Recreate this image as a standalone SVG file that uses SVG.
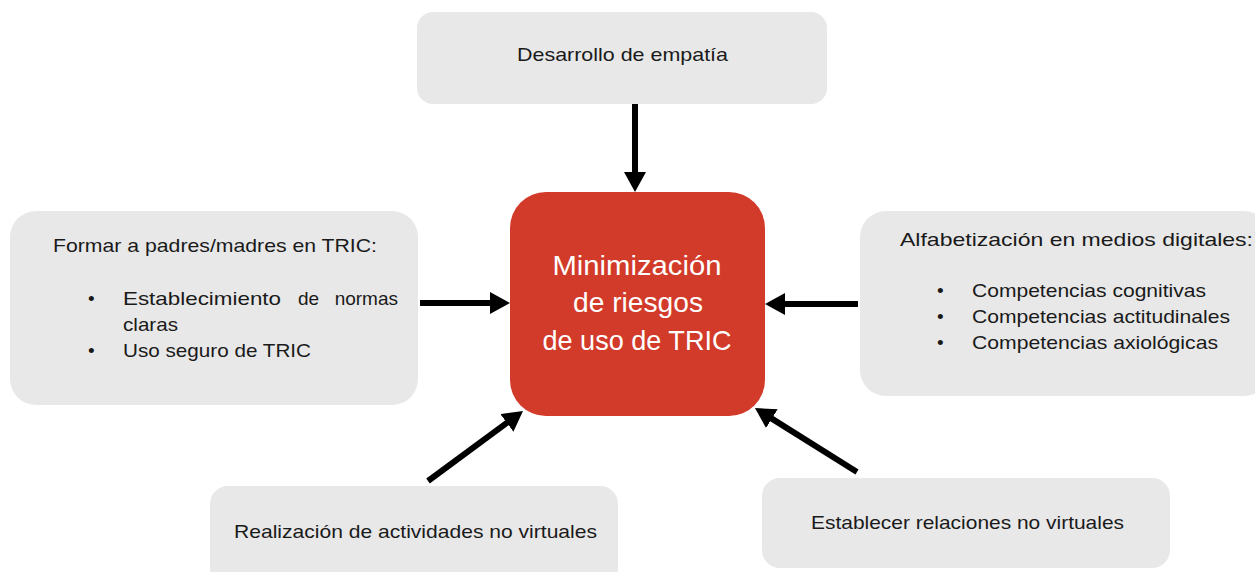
<svg xmlns="http://www.w3.org/2000/svg" width="1255" height="572" viewBox="0 0 1255 572">
<style>
.box{fill:#e8e8e8}
.t{font-family:"Liberation Sans",Arial,sans-serif;font-size:19px;fill:#1a1a1a}
.c{font-family:"Liberation Sans",Arial,sans-serif;font-size:28px;fill:#ffffff;text-anchor:middle}
.arr{stroke:#000;stroke-width:6;fill:none;marker-end:url(#ah)}
</style>
<defs>
<marker id="ah" markerUnits="userSpaceOnUse" markerWidth="20" markerHeight="22" refX="2" refY="11" orient="auto" viewBox="0 0 20 22">
<path d="M0,0 L20,11 L0,22 z" fill="#000"/>
</marker>
</defs>
<rect width="1255" height="572" fill="#ffffff"/>
<g id="top">
<rect class="box" x="417" y="12" width="410" height="92" rx="16"/>
<text class="t" x="517" y="61" textLength="211" lengthAdjust="spacingAndGlyphs">Desarrollo de empatía</text>
</g>
<g id="center">
<rect x="510" y="192" width="255" height="224" rx="36" fill="#d23a29"/>
<text class="c" x="637" y="275" textLength="169" lengthAdjust="spacingAndGlyphs">Minimización</text>
<text class="c" x="638" y="312" textLength="130" lengthAdjust="spacingAndGlyphs">de riesgos</text>
<text class="c" x="637" y="350" textLength="189" lengthAdjust="spacingAndGlyphs">de uso de TRIC</text>
</g>
<g id="left">
<rect class="box" x="10" y="211" width="408" height="194" rx="26"/>
<text class="t" x="53" y="252" textLength="324" lengthAdjust="spacingAndGlyphs">Formar a padres/madres en TRIC:</text>
<text class="t" x="88" y="305">•</text>
<text class="t" x="123" y="305" textLength="158" lengthAdjust="spacingAndGlyphs">Establecimiento</text>
<text class="t" x="298" y="305">de</text>
<text class="t" x="398" y="305" text-anchor="end">normas</text>
<text class="t" x="123" y="331" textLength="55" lengthAdjust="spacingAndGlyphs">claras</text>
<text class="t" x="88" y="357">•</text>
<text class="t" x="123" y="357" textLength="188" lengthAdjust="spacingAndGlyphs">Uso seguro de TRIC</text>
</g>
<g id="right">
<rect class="box" x="860" y="211" width="410" height="185" rx="26"/>
<text class="t" x="900" y="246" textLength="353" lengthAdjust="spacingAndGlyphs">Alfabetización en medios digitales:</text>
<text class="t" x="937" y="297">•</text>
<text class="t" x="972" y="297" textLength="234" lengthAdjust="spacingAndGlyphs">Competencias cognitivas</text>
<text class="t" x="937" y="323">•</text>
<text class="t" x="972" y="323" textLength="258" lengthAdjust="spacingAndGlyphs">Competencias actitudinales</text>
<text class="t" x="937" y="349">•</text>
<text class="t" x="972" y="349" textLength="246" lengthAdjust="spacingAndGlyphs">Competencias axiológicas</text>
</g>
<g id="bottom-left">
<rect class="box" x="210" y="486" width="408" height="100" rx="18"/>
<text class="t" x="234" y="538" textLength="363" lengthAdjust="spacingAndGlyphs">Realización de actividades no virtuales</text>
</g>
<g id="bottom-right">
<rect class="box" x="762" y="478" width="408" height="90" rx="18"/>
<text class="t" x="811" y="529" textLength="313" lengthAdjust="spacingAndGlyphs">Establecer relaciones no virtuales</text>
</g>
<g id="connectors">
<line class="arr" x1="635" y1="104" x2="635" y2="174"/>
<line class="arr" x1="420" y1="303" x2="492" y2="303"/>
<line class="arr" x1="858" y1="304" x2="783" y2="304"/>
<line class="arr" x1="428" y1="481" x2="508.5" y2="421.7"/>
<line class="arr" x1="857" y1="472" x2="770.2" y2="417.6"/>
</g>
</svg>
